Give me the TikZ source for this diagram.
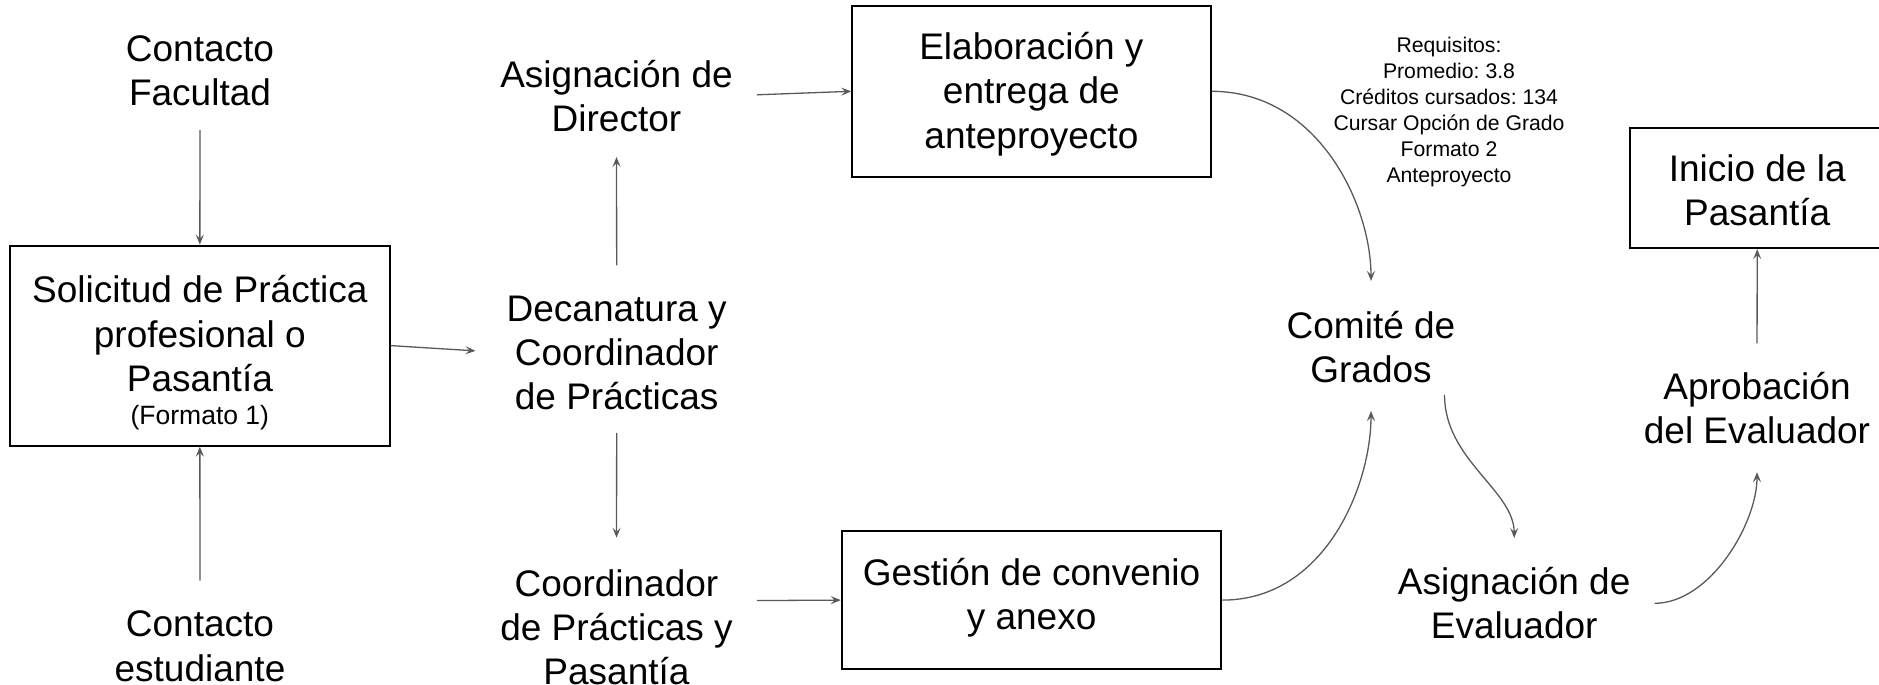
\documentclass[tikz,border=0pt]{standalone}
\usepackage{fontspec}
\setmainfont{Liberation Sans}
\usepackage{xcolor}
\definecolor{flechagris}{HTML}{595959}
\usetikzlibrary{arrows.meta, positioning}

\begin{document}
\frenchspacing
\begin{tikzpicture}[x=1pt, y=-1pt,
    txt/.style={align=center, inner sep=0pt, font=\fontsize{37}{44.2}\selectfont},
    caja/.style={draw=black, line width=2pt, align=center, inner sep=0pt, font=\fontsize{37}{44.2}\selectfont},
    flecha/.style={draw=flechagris, line width=1.3pt, -{Stealth[length=10pt,width=8pt,inset=4pt]}}]
     \clip (0,0) rectangle (1879,685);
     % columna izquierda
     \node[txt] (facultad) at (200,70.4) {Contacto\\Facultad};
     \node[caja, minimum width=379.7, minimum height=200.1] (solicitud) at (199.85,345.6)
        {\rule{0pt}{42pt}Solicitud de Práctica\\profesional o\\Pasantía\\[-10.5pt]{\fontsize{26.5}{31}\selectfont (Formato 1)}};
     \node[txt] (estudiante) at (200,646.3) {Contacto\\estudiante};
     % columna central
     \node[txt] (director) at (616.5,95.7) {Asignación de\\Director};
     \node[txt] (decanatura) at (616.7,352.8) {Decanatura y\\Coordinador\\de Prácticas};
     \node[txt] (coordinador) at (616.5,627.3) {Coordinador\\de Prácticas y\\Pasantía};
     \node[caja, minimum width=358.4, minimum height=170.4] (anteproyecto) at (1031.4,91.3)
        {\rule{0pt}{33pt}Elaboración y\\entrega de\\anteproyecto};
     \node[caja, minimum width=379.6, minimum height=138.4] (convenio) at (1031.6,600.1)
        {Gestión de convenio\\y anexo\rule[-12.8pt]{0pt}{1pt}};
     % columna derecha
     \node[txt, font=\fontsize{21.2}{26}\selectfont] (requisitos) at (1449,112.2)
        {Requisitos:\\Promedio: 3.8\\Créditos cursados: 134\\Cursar Opción de Grado\\Formato 2\\Anteproyecto};
     \node[txt] (comite) at (1371,347) {Comité de\\Grados};
     \node[txt] (evaluador) at (1514.2,603.3) {Asignación de\\Evaluador};
     \node[txt] (aprobacion) at (1757,408.3) {Aprobación\\del Evaluador};
     \node[caja, minimum width=254.6, minimum height=120.5] (inicio) at (1757.2,187.9)
        {\rule{0pt}{32pt}Inicio de la\\Pasantía};

     \draw[flecha, shorten <=24.3pt] (facultad.south) -- (solicitud.north);
     \draw[flecha, shorten <=30.3pt] (estudiante.north) -- (solicitud.south);
     \draw[flecha, shorten >=31pt] (solicitud.east) -- (decanatura.west);
     \draw[flecha, shorten <=30.2pt, shorten >=25.2pt] (decanatura.north) -- (director.south);
     \draw[flecha, shorten <=22.7pt, shorten >=31.6pt] (decanatura.south) -- (coordinador.north);
     \draw[flecha, shorten <=24pt] (director.east) -- (anteproyecto.west);
     \draw[flecha, shorten <=24pt] ([yshift=26.6pt]coordinador.east) -- (convenio.west);
     \draw[flecha, shorten >=29.9pt] (anteproyecto.east) to[out=0, in=90] (comite.north);
     \draw[flecha, shorten >=27.9pt] (convenio.east) to[out=0, in=-90] (comite.south);
     \draw[flecha, shorten <=11.8pt, shorten >=29.2pt] ([xshift=-11pt]comite.south east) to[out=-90, in=90] (evaluador.north);
     \draw[flecha, shorten <=24pt, shorten >=27.8pt] (evaluador.east) to[out=0, in=-90] (aprobacion.south);
     \draw[flecha, shorten <=28.9pt] (aprobacion.north) -- (inicio.south);
\end{tikzpicture}
\end{document}
